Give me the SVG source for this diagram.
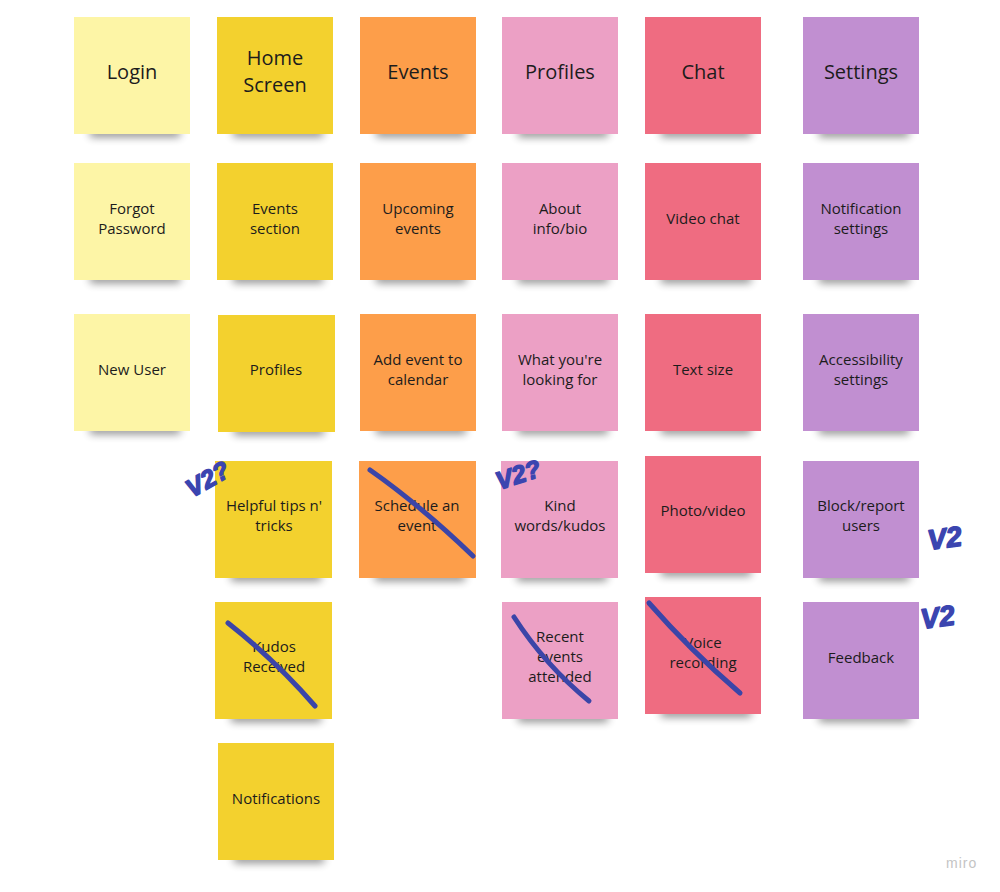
<svg xmlns="http://www.w3.org/2000/svg" width="1000" height="892" viewBox="0 0 1000 892">
<defs>
<filter id="sh" x="-30%" y="-100%" width="160%" height="300%"><feGaussianBlur stdDeviation="4"/></filter>
</defs>
<style>
.t{font-family:"Open Sans","Liberation Sans",sans-serif;fill:#1c1c1c;text-anchor:middle}
.h{font-size:20px}
.b{font-size:15px}
.s{fill:#000;opacity:0.45;filter:url(#sh)}
.y0{fill:#fdf5a6}.y1{fill:#f3d12e}.o{fill:#fd9e4a}.p{fill:#eca0c5}.r{fill:#ef6c81}.v{fill:#c18fd1}
.x{fill:none;stroke:#3b45a8;stroke-width:5;stroke-linecap:round}
.a{font-family:"Liberation Sans",sans-serif;font-weight:bold;font-style:italic;fill:#3b45b0;stroke:#3b45b0;stroke-width:1.5;stroke-linejoin:round}
</style>
<rect width="1000" height="892" fill="#fff"/>
<g id="shadows">
<rect class="s" x="90" y="128" width="90" height="9"/><rect class="s" x="233" y="128" width="90" height="9"/><rect class="s" x="376" y="128" width="90" height="9"/><rect class="s" x="518" y="128" width="90" height="9"/><rect class="s" x="661" y="128" width="90" height="9"/><rect class="s" x="819" y="128" width="90" height="9"/>
<rect class="s" x="90" y="274" width="90" height="9"/><rect class="s" x="233" y="274" width="90" height="9"/><rect class="s" x="376" y="274" width="90" height="9"/><rect class="s" x="518" y="274" width="90" height="9"/><rect class="s" x="661" y="274" width="90" height="9"/><rect class="s" x="819" y="274" width="90" height="9"/>
<rect class="s" x="90" y="425" width="90" height="9"/><rect class="s" x="234" y="426" width="90" height="9"/><rect class="s" x="376" y="425" width="90" height="9"/><rect class="s" x="518" y="425" width="90" height="9"/><rect class="s" x="661" y="425" width="90" height="9"/><rect class="s" x="819" y="425" width="90" height="9"/>
<rect class="s" x="231" y="572" width="90" height="9"/><rect class="s" x="375" y="572" width="90" height="9"/><rect class="s" x="517" y="572" width="90" height="9"/><rect class="s" x="661" y="567" width="90" height="9"/><rect class="s" x="819" y="572" width="90" height="9"/>
<rect class="s" x="231" y="713" width="90" height="9"/><rect class="s" x="518" y="713" width="90" height="9"/><rect class="s" x="661" y="708" width="90" height="9"/><rect class="s" x="819" y="713" width="90" height="9"/>
<rect class="s" x="234" y="854" width="90" height="9"/>
</g>
<g id="n-login"><rect class="y0" x="74" y="17" width="116" height="117"/><text class="t h" x="132" y="79">Login</text></g>
<g id="n-home"><rect class="y1" x="217" y="17" width="116" height="117"/><text class="t h" x="275" y="65">Home</text><text class="t h" x="275" y="92">Screen</text></g>
<g id="n-events"><rect class="o" x="360" y="17" width="116" height="117"/><text class="t h" x="418" y="79">Events</text></g>
<g id="n-profiles"><rect class="p" x="502" y="17" width="116" height="117"/><text class="t h" x="560" y="79">Profiles</text></g>
<g id="n-chat"><rect class="r" x="645" y="17" width="116" height="117"/><text class="t h" x="703" y="79">Chat</text></g>
<g id="n-settings"><rect class="v" x="803" y="17" width="116" height="117"/><text class="t h" x="861" y="79">Settings</text></g>

<g id="n-forgot"><rect class="y0" x="74" y="163" width="116" height="117"/><text class="t b" x="132" y="214">Forgot</text><text class="t b" x="132" y="234">Password</text></g>
<g id="n-events-section"><rect class="y1" x="217" y="163" width="116" height="117"/><text class="t b" x="275" y="214">Events</text><text class="t b" x="275" y="234">section</text></g>
<g id="n-upcoming"><rect class="o" x="360" y="163" width="116" height="117"/><text class="t b" x="418" y="214">Upcoming</text><text class="t b" x="418" y="234">events</text></g>
<g id="n-about"><rect class="p" x="502" y="163" width="116" height="117"/><text class="t b" x="560" y="214">About</text><text class="t b" x="560" y="234">info/bio</text></g>
<g id="n-video"><rect class="r" x="645" y="163" width="116" height="117"/><text class="t b" x="703" y="224">Video chat</text></g>
<g id="n-notif-settings"><rect class="v" x="803" y="163" width="116" height="117"/><text class="t b" x="861" y="214">Notification</text><text class="t b" x="861" y="234">settings</text></g>

<g id="n-newuser"><rect class="y0" x="74" y="314" width="116" height="117"/><text class="t b" x="132" y="375">New User</text></g>
<g id="n-home-profiles"><rect class="y1" x="218" y="315" width="117" height="117"/><text class="t b" x="276" y="375">Profiles</text></g>
<g id="n-add-event"><rect class="o" x="360" y="314" width="116" height="117"/><text class="t b" x="418" y="365">Add event to</text><text class="t b" x="418" y="385">calendar</text></g>
<g id="n-looking"><rect class="p" x="502" y="314" width="116" height="117"/><text class="t b" x="560" y="365">What you're</text><text class="t b" x="560" y="385">looking for</text></g>
<g id="n-textsize"><rect class="r" x="645" y="314" width="116" height="117"/><text class="t b" x="703" y="375">Text size</text></g>
<g id="n-access"><rect class="v" x="803" y="314" width="116" height="117"/><text class="t b" x="861" y="365">Accessibility</text><text class="t b" x="861" y="385">settings</text></g>

<g id="n-tips"><rect class="y1" x="215" y="461" width="117" height="117"/><text class="t b" x="274" y="511">Helpful tips n'</text><text class="t b" x="274" y="531">tricks</text></g>
<g id="n-schedule"><rect class="o" x="359" y="461" width="117" height="117"/><text class="t b" x="417" y="511">Schedule an</text><text class="t b" x="417" y="531">event</text></g>
<g id="n-kind"><rect class="p" x="501" y="461" width="117" height="117"/><text class="t b" x="560" y="511">Kind</text><text class="t b" x="560" y="531">words/kudos</text></g>
<g id="n-photo"><rect class="r" x="645" y="456" width="116" height="117"/><text class="t b" x="703" y="516">Photo/video</text></g>
<g id="n-block"><rect class="v" x="803" y="461" width="116" height="117"/><text class="t b" x="861" y="511">Block/report</text><text class="t b" x="861" y="531">users</text></g>

<g id="n-kudos"><rect class="y1" x="215" y="602" width="117" height="117"/><text class="t b" x="274" y="652">Kudos</text><text class="t b" x="274" y="672">Received</text></g>
<g id="n-recent"><rect class="p" x="502" y="602" width="116" height="117"/><text class="t b" x="560" y="642">Recent</text><text class="t b" x="560" y="662">events</text><text class="t b" x="560" y="682">attended</text></g>
<g id="n-voice"><rect class="r" x="645" y="597" width="116" height="117"/><text class="t b" x="703" y="648">Voice</text><text class="t b" x="703" y="668">recording</text></g>
<g id="n-feedback"><rect class="v" x="803" y="602" width="116" height="117"/><text class="t b" x="861" y="663">Feedback</text></g>

<g id="n-notifications"><rect class="y1" x="218" y="743" width="116" height="117"/><text class="t b" x="276" y="804">Notifications</text></g>

<g id="strikes">
<path class="x" d="M370 470 Q420 505 473 556"/>
<path class="x" d="M228 623 Q275 660 315 706"/>
<path class="x" d="M514 617 Q545 665 589 701"/>
<path class="x" d="M649 603 Q690 650 740 693"/>
</g>
<g id="annotations">
<text class="a" font-size="25" transform="translate(192 498) rotate(-30)">V2?</text>
<text class="a" font-size="25" transform="translate(499 490) rotate(-18)">V2?</text>
<text class="a" font-size="28" transform="translate(929 550) rotate(-8)">V2</text>
<text class="a" font-size="28" transform="translate(922 629) rotate(-8)">V2</text>
</g>
<text x="946" y="868" font-family="Liberation Sans,sans-serif" font-size="14" fill="#c4c4c4" letter-spacing="1">miro</text>
</svg>
